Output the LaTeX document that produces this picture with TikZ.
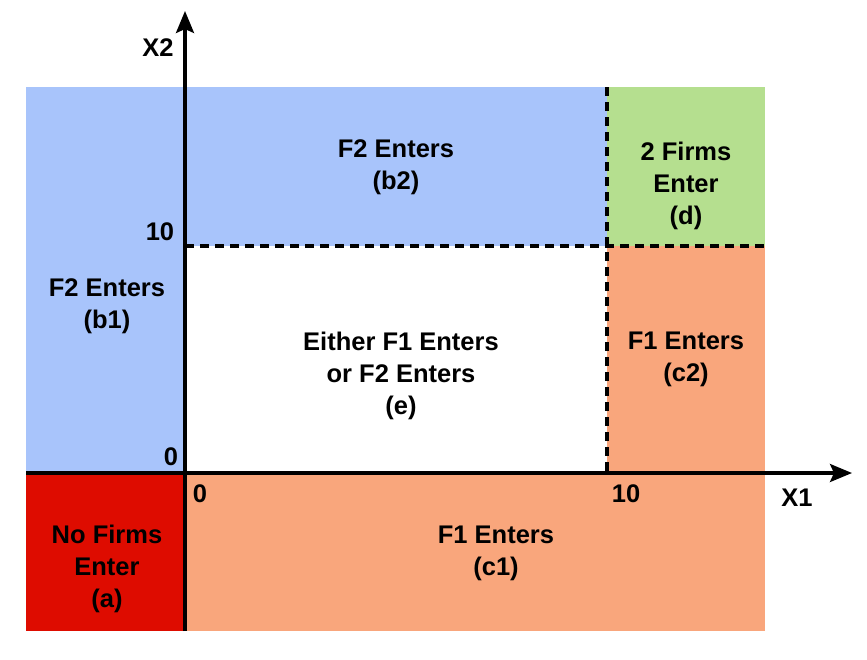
\documentclass[tikz,border=0pt]{standalone}
\usepackage{fontspec}
\setmainfont{Liberation Sans}
\usetikzlibrary{arrows.meta}
\definecolor{regblue}{HTML}{A8C4FB}
\definecolor{reggreen}{HTML}{B5DF8F}
\definecolor{regorange}{HTML}{F9A67C}
\definecolor{regred}{HTML}{DE0C00}
\begin{document}
\begin{tikzpicture}[x=1pt,y=-1pt,
  lbl/.style={font=\fontsize{25.5}{32}\selectfont\bfseries, align=center, inner sep=0pt},
  axis/.style={line width=3.2pt, -{Stealth[length=22pt,width=18pt,inset=4pt]}},
  divline/.style={line width=3.4pt, dash pattern=on 9pt off 6pt}]
\useasboundingbox (0,0) rectangle (867,659);
% regions
\fill[regred] (26,473) rectangle (185,631);
\fill[regblue] (26,87) rectangle (185,473);
\fill[regblue] (185,87) rectangle (607,246);
\fill[reggreen] (607,87) rectangle (765,246);
\fill[regorange] (607,246) rectangle (765,473);
\fill[regorange] (185,473) rectangle (765,631);
% dividers
\coordinate (hl) at (185,246);
\coordinate (hr) at (765,246);
\coordinate (vt) at (607,87);
\coordinate (vb) at (607,473);
\draw[divline] (hl) -- (hr);
\draw[divline] (vt) -- (vb);
% axes
\coordinate (ybot) at (185,631);
\coordinate (ytop) at (185,11);
\coordinate (xleft) at (26,473);
\coordinate (xright) at (852,473);
\draw[axis] (xleft) -- (xright);
\draw[axis] (ybot) -- (ytop);
% axis labels
\node[lbl] (x2) at (158,48) {X2};
\node[lbl] (x1) at (797,498) {X1};
\node[lbl] (y10) at (160,232) {10};
\node[lbl] (y0) at (171,457) {0};
\node[lbl] (x0) at (200,494) {0};
\node[lbl] (x10) at (626,494) {10};
% region labels
\node[lbl] (b2) at (396,167) {F2 Enters\\(b2)};
\node[lbl] (d) at (686,186) {2 Firms\\Enter\\(d)};
\node[lbl] (b1) at (107,306) {F2 Enters\\(b1)};
\node[lbl] (e) at (401,376) {Either F1 Enters\\or F2 Enters\\(e)};
\node[lbl] (c2) at (686,359) {F1 Enters\\(c2)};
\node[lbl] (a) at (107,569) {No Firms\\Enter\\(a)};
\node[lbl] (c1) at (496,553) {F1 Enters\\(c1)};
\end{tikzpicture}
\end{document}
